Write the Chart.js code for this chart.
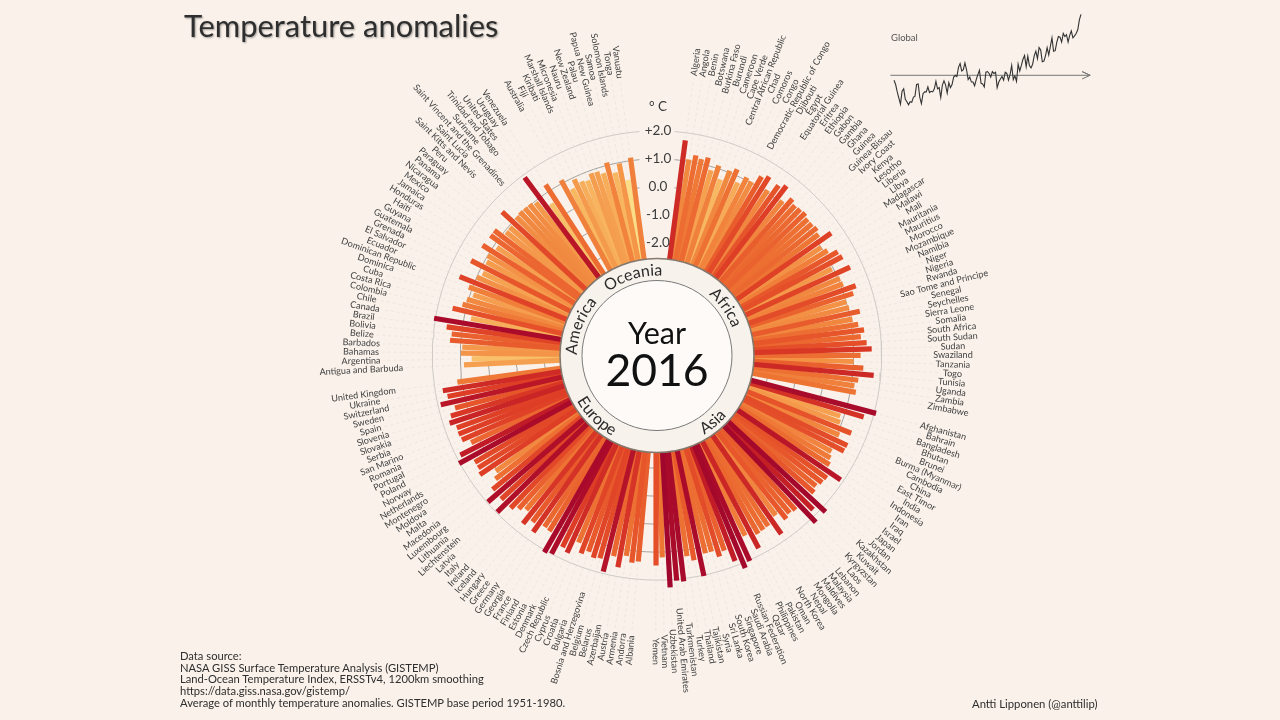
<!DOCTYPE html>
<html>
<head>
<meta charset="utf-8">
<title>Temperature anomalies</title>
<script src="https://cdn.jsdelivr.net/npm/chart.js@4"></script>
<style>
  html, body { margin: 0; background: #f9f1ea; }
  body { position: relative; width: 1280px; height: 720px; overflow: hidden; font-family: Lato, sans-serif; }
  #main { position: absolute; left: 0; top: 0; }
  #spark { position: absolute; left: 880px; top: 0; }
  #title { position: absolute; left: 184px; top: 7px; font-size: 30.9px; color: #2e2e2e; text-shadow: 1px 1px 2px rgba(0,0,0,.35); white-space: nowrap; }
  #source { position: absolute; left: 180px; top: 650px; font-size: 11.2px; line-height: 11.7px; color: #2e2e2e; white-space: nowrap; }
  #credit { position: absolute; left: 972px; top: 697px; font-size: 11.3px; color: #2e2e2e; white-space: nowrap; }
  #globalLabel { position: absolute; left: 891px; top: 32px; font-size: 9.5px; color: #555; }
</style>
</head>
<body>
<canvas id="main" width="1280" height="720"></canvas>
<canvas id="spark" width="220" height="120"></canvas>
<div id="title">Temperature anomalies</div>
<div id="globalLabel">Global</div>
<div id="source">Data source:<br>NASA GISS Surface Temperature Analysis (GISTEMP)<br>Land-Ocean Temperature Index, ERSSTv4, 1200km smoothing<br>https://data.giss.nasa.gov/gistemp/<br>Average of monthly temperature anomalies. GISTEMP base period 1951-1980.</div>
<div id="credit">Antti Lipponen (@anttilip)</div>

<script>
// Countries and 2016 anomalies
const africaNames = ['Algeria','Angola','Benin','Botswana','Burkina Faso','Burundi','Cameroon','Cape Verde','Central African Republic','Chad','Comoros','Congo','Democratic Republic of Congo','Djibouti','Egypt','Equatorial Guinea','Eritrea','Ethiopia','Gabon','Gambia','Ghana','Guinea','Guinea-Bissau','Ivory Coast','Kenya','Lesotho','Liberia','Libya','Madagascar','Malawi','Mali','Mauritania','Mauritius','Morocco','Mozambique','Namibia','Niger','Nigeria','Rwanda','Sao Tome and Principe','Senegal','Seychelles','Sierra Leone','Somalia','South Africa','South Sudan','Sudan','Swaziland','Tanzania','Togo','Tunisia','Uganda','Zambia','Zimbabwe'];
const africaValues = [1.73,1.07,1.26,1.17,1.28,0.87,1.11,0.66,1.07,1.22,0.79,1.10,1.04,1.38,1.52,1.08,1.44,1.60,1.09,1.37,1.26,1.29,1.33,1.24,1.24,1.29,1.19,1.58,1.00,1.13,1.42,1.48,0.95,1.56,1.07,1.10,1.50,1.33,1.01,1.05,1.39,1.08,1.25,1.43,1.29,1.48,1.65,1.25,1.01,1.36,1.75,1.22,1.11,1.20];

const asiaNames = ['Afghanistan','Bahrain','Bangladesh','Bhutan','Brunei','Burma (Myanmar)','Cambodia','China','East Timor','India','Indonesia','Iran','Iraq','Israel','Japan','Jordan','Kazakhstan','Kuwait','Kyrgyzstan','Laos','Lebanon','Malaysia','Maldives','Mongolia','Nepal','North Korea','Oman','Pakistan','Philippines','Qatar','Russian Federation','Saudi Arabia','Singapore','South Korea','Sri Lanka','Syria','Tajikistan','Thailand','Turkey','Turkmenistan','United Arab Emirates','Uzbekistan','Vietnam','Yemen'];
const asiaValues = [2.07,1.68,0.87,0.94,1.45,1.08,1.50,1.48,1.09,1.17,1.27,1.90,1.46,1.42,1.32,1.42,2.19,1.81,2.20,1.39,1.33,1.42,1.09,1.75,1.25,1.27,1.30,1.76,1.14,2.03,2.20,1.83,1.35,1.50,1.25,1.25,2.03,1.41,1.22,2.10,2.05,2.27,1.19,1.48];

const europeNames = ['Albania','Andorra','Armenia','Austria','Azerbaijan','Belarus','Belgium','Bosnia and Herzegovina','Bulgaria','Croatia','Cyprus','Czech Republic','Denmark','Estonia','Finland','France','Georgia','Germany','Greece','Hungary','Iceland','Ireland','Italy','Latvia','Liechtenstein','Lithuania','Luxembourg','Macedonia','Malta','Moldova','Montenegro','Netherlands','Norway','Poland','Portugal','Romania','San Marino','Serbia','Slovakia','Slovenia','Spain','Sweden','Switzerland','Ukraine','United Kingdom'];
const europeValues = [1.37,1.43,1.22,1.67,1.31,1.93,1.50,1.55,1.40,1.55,1.22,1.72,1.61,2.00,2.08,1.34,1.30,1.68,1.40,1.66,1.20,1.35,1.53,1.97,1.55,1.97,1.55,1.24,1.06,1.60,1.52,1.52,2.03,1.85,1.31,1.57,1.60,1.58,1.77,1.65,1.43,1.90,1.60,1.73,1.17];

const americaNames = ['Antigua and Barbuda','Argentina','Bahamas','Barbados','Belize','Bolivia','Brazil','Canada','Chile','Colombia','Costa Rica','Cuba','Dominica','Dominican Republic','Ecuador','El Salvador','Grenada','Guatemala','Guyana','Haiti','Honduras','Jamaica','Mexico','Nicaragua','Panama','Paraguay','Peru','Saint Kitts and Nevis','Saint Lucia','Saint Vincent and the Grenadines','Suriname','Trinidad and Tobago','United States','Uruguay','Venezuela'];
const americaValues = [0.88,0.60,0.98,0.94,1.39,1.35,1.56,2.05,0.75,1.47,1.16,1.06,0.89,1.13,1.57,1.00,0.86,1.43,0.92,1.00,1.35,0.88,1.31,1.31,0.94,0.95,1.52,1.03,1.07,1.05,1.04,0.95,1.90,0.59,1.26];

const oceaniaNames = ['Australia','Fiji','Kiribati','Marshall Islands','Micronesia','Nauru','New Zealand','Palau','Papua New Guinea','Samoa','Solomon Islands','Tonga','Vanuatu'];
const oceaniaValues = [1.11,0.66,0.93,0.75,0.70,0.90,0.88,0.76,1.10,0.68,0.97,0.33,1.11];

const ringValues = [2, 1, 0, -1, -2];
const ringLabels = ['+2.0', '+1.0', '0.0', '-1.0', '-2.0'];

// Global curve for the small inset, one value per year from 1900
const globalYears = [1900,1901,1902,1903,1904,1905,1906,1907,1908,1909,1910,1911,1912,1913,1914,1915,1916,1917,1918,1919,1920,1921,1922,1923,1924,1925,1926,1927,1928,1929,1930,1931,1932,1933,1934,1935,1936,1937,1938,1939,1940,1941,1942,1943,1944,1945,1946,1947,1948,1949,1950,1951,1952,1953,1954,1955,1956,1957,1958,1959,1960,1961,1962,1963,1964,1965,1966,1967,1968,1969,1970,1971,1972,1973,1974,1975,1976,1977,1978,1979,1980,1981,1982,1983,1984,1985,1986,1987,1988,1989,1990,1991,1992,1993,1994,1995,1996,1997,1998,1999,2000,2001,2002,2003,2004,2005,2006,2007,2008,2009,2010,2011,2012,2013,2014,2015,2016];
const globalValues = [-.08,-.15,-.27,-.37,-.47,-.26,-.22,-.39,-.43,-.48,-.43,-.44,-.36,-.34,-.15,-.14,-.36,-.46,-.30,-.27,-.27,-.19,-.28,-.26,-.27,-.22,-.10,-.22,-.20,-.36,-.16,-.09,-.16,-.29,-.12,-.20,-.15,-.03,0,-.02,.13,.19,.07,.09,.20,.09,-.07,-.03,-.11,-.11,-.17,-.07,.01,.08,-.13,-.14,-.19,.05,.06,.03,-.03,.06,.03,.05,-.20,-.11,-.06,-.02,-.08,.05,.03,-.08,.01,.16,-.07,-.01,-.10,.18,.07,.16,.26,.32,.14,.31,.16,.12,.18,.32,.39,.27,.45,.41,.22,.23,.32,.45,.33,.47,.61,.39,.40,.54,.63,.62,.54,.68,.63,.66,.54,.65,.72,.61,.64,.68,.74,.90,.99];

// Geometry of the wheel
const cx = 657, cy = 355.5;
const pxPerDeg = 28;
const zeroRadius = 168.6;     // radius of the 0.0 ring in px
const discRadius = 97, innerRadius = 75;
const labelRadius = 296;
const slot = 1.755;           // degrees between two countries
const labelFont = '9.1px Lato';

// group order round the wheel, clockwise from the top
const groups = [
  { title: 'Africa',  names: africaNames,  values: africaValues,  start: 7.5,   mid: 55,  flip: false },
  { title: 'Asia',    names: asiaNames,    values: asiaValues,    start: 104.8, mid: 140, flip: true },
  { title: 'Europe',  names: europeNames,  values: europeValues,  start: 185.2, mid: 225, flip: true },
  { title: 'America', names: americaNames, values: americaValues, start: 267.2, mid: 291, flip: false },
  { title: 'Oceania', names: oceaniaNames, values: oceaniaValues, start: 331.3, mid: 343, flip: false },
];

// The axes run in degrees C, measured from the centre of the wheel
const rOf = v => (zeroRadius + v * pxPerDeg) / pxPerDeg;
const polar = (r, deg) => {
  const a = deg * Math.PI / 180;
  return { x: r * Math.sin(a), y: r * Math.cos(a) };
};

// Colour follows the anomaly: pale yellow -> orange -> dark red
const colorStops = [[0.3,[251,224,138]],[0.7,[248,180,94]],[1.0,[243,146,70]],[1.2,[238,116,52]],[1.4,[232,90,44]],[1.6,[222,62,38]],[1.8,[198,32,38]],[2.0,[172,12,42]],[2.3,[160,6,44]]];
function colorFor(v) {
  for (let i = 1; i < colorStops.length; i++) {
    if (v <= colorStops[i][0]) {
      const [v0, c0] = colorStops[i - 1], [v1, c1] = colorStops[i];
      const t = Math.max(0, (v - v0) / (v1 - v0));
      return `rgb(${c0.map((c, k) => Math.round(c + (c1[k] - c) * t)).join(',')})`;
    }
  }
  return 'rgb(160,6,44)';
}

const measure = document.createElement('canvas').getContext('2d');
measure.font = labelFont;

const datasets = [];
const guidePoints = [];
const countryLabels = [];

groups.forEach(group => {
  group.names.forEach((name, i) => {
    const angle = group.start + i * slot;
    const value = group.values[i];

    // one straight thick line per country, from under the disc to its value
    datasets.push({
      data: [polar(rOf(-3), angle), polar(rOf(value), angle)],
      borderColor: colorFor(value),
      borderWidth: 5.2,
      borderCapStyle: 'butt',
      order: -value,
    });

    const guideEnd = (labelRadius - measure.measureText(name).width / 2 - 3) / pxPerDeg;
    guidePoints.push(polar(rOf(-2.5), angle), polar(guideEnd, angle), { x: NaN, y: NaN });
    countryLabels.push({ name, angle });
  });
});

// faint dashed guides out to the labels
datasets.push({
  data: guidePoints,
  borderColor: '#ebe4dc',
  borderWidth: 0.8,
  borderDash: [3, 3],
  spanGaps: false,
  order: 1000,
});

// rings, left open at the top where the scale labels sit
ringValues.forEach(v => {
  const r = rOf(v);
  const open = Math.asin(17.5 / (r * pxPerDeg)) * 180 / Math.PI;
  const pts = [];
  for (let a = open; a < 360 - open; a += 2) pts.push(polar(r, a));
  pts.push(polar(r, 360 - open));
  datasets.push({
    data: pts,
    borderColor: v === 2 ? '#cfcac6' : '#a6a3a0',
    borderWidth: 1,
    order: 900,
  });
});

const wheelPlugin = {
  id: 'wheel',
  afterDatasetsDraw(chart) {
    const { ctx, scales: { x, y } } = chart;
    const px = x.getPixelForValue(0), py = y.getPixelForValue(0);

    ctx.save();
    // the disc in the middle hides the bar feet
    ctx.beginPath();
    ctx.arc(px, py, discRadius, 0, Math.PI * 2);
    ctx.fillStyle = '#f8f2ec';
    ctx.fill();
    ctx.lineWidth = 1.6;
    ctx.strokeStyle = '#85786c';
    ctx.stroke();

    ctx.beginPath();
    ctx.arc(px, py, innerRadius, 0, Math.PI * 2);
    ctx.fillStyle = '#fdfaf7';
    ctx.fill();
    ctx.lineWidth = 1;
    ctx.strokeStyle = '#7a7a7a';
    ctx.stroke();

    ctx.fillStyle = '#111';
    ctx.textAlign = 'center';
    ctx.textBaseline = 'middle';
    ctx.font = '30.5px Lato';
    ctx.fillText('Year', px, py - 21);
    ctx.font = '44.5px Lato';
    ctx.fillText('2016', px, py + 16);

    // group names bent along the ring
    ctx.fillStyle = '#2a2a2a';
    ctx.font = '16px Lato';
    groups.forEach(group => {
      const chars = group.title.split('');
      const total = ctx.measureText(group.title).width;
      const radius = group.flip ? 92 : 80;
      const dir = group.flip ? -1 : 1;
      let run = -total / 2;
      ctx.textBaseline = 'alphabetic';
      chars.forEach(ch => {
        const w = ctx.measureText(ch).width;
        const a = group.mid + dir * (run + w / 2) / radius * 180 / Math.PI;
        const p = polar(radius, a);
        ctx.save();
        ctx.translate(px + p.x, py - p.y);
        ctx.rotate((group.flip ? a - 180 : a) * Math.PI / 180);
        ctx.fillText(ch, 0, 0);
        ctx.restore();
        run += w;
      });
    });

    // scale labels at the top
    ctx.textBaseline = 'middle';
    ctx.fillStyle = '#3c3c3c';
    ctx.font = '13.5px Lato';
    ringValues.forEach((v, i) => {
      ctx.fillText(ringLabels[i], px + 1, y.getPixelForValue(rOf(v)));
    });
    ctx.fillText('° C', px + 1, y.getPixelForValue(rOf(2.87)));

    // country names, centred on a circle and turned to stay readable
    ctx.fillStyle = '#3f3f3f';
    ctx.font = labelFont;
    countryLabels.forEach(({ name, angle }) => {
      const p = polar(labelRadius / pxPerDeg, angle);
      ctx.save();
      ctx.translate(x.getPixelForValue(p.x), y.getPixelForValue(p.y));
      ctx.rotate((angle < 180.5 ? angle - 90 : angle - 270) * Math.PI / 180);
      ctx.fillText(name, 0, 0);
      ctx.restore();
    });
    ctx.restore();
  }
};

new Chart(document.getElementById('main'), {
  type: 'scatter',
  data: { datasets },
  options: {
    responsive: false,
    animation: false,
    showLine: true,
    elements: { point: { radius: 0 } },
    layout: { padding: 0 },
    plugins: { legend: { display: false }, tooltip: { enabled: false } },
    scales: {
      x: { display: false, min: -cx / pxPerDeg, max: (1280 - cx) / pxPerDeg },
      y: { display: false, min: -(720 - cy) / pxPerDeg, max: cy / pxPerDeg },
    },
  },
  plugins: [wheelPlugin],
});

// Inset with the global curve
new Chart(document.getElementById('spark'), {
  type: 'scatter',
  data: {
    datasets: [
      {
        data: globalYears.map((year, i) => ({ x: year, y: globalValues[i] })),
        borderColor: '#333',
        borderWidth: 1.1,
        order: 1,
      },
      {
        // zero line with its open arrow head
        data: [{ x: 1897.7, y: 0 }, { x: 2021.7, y: 0 }, { x: 2016.7, y: 0.06 }, { x: 2021.7, y: 0 }, { x: 2016.7, y: -0.06 }],
        borderColor: '#777',
        borderWidth: 1,
        order: 2,
      },
    ],
  },
  options: {
    responsive: false,
    animation: false,
    showLine: true,
    elements: { point: { radius: 0 } },
    plugins: { legend: { display: false }, tooltip: { enabled: false } },
    scales: {
      x: { display: false, min: 1891.3, max: 2027.8 },
      y: { display: false, min: -0.727, max: 1.224 },
    },
  },
});
</script>
</body>
</html>
